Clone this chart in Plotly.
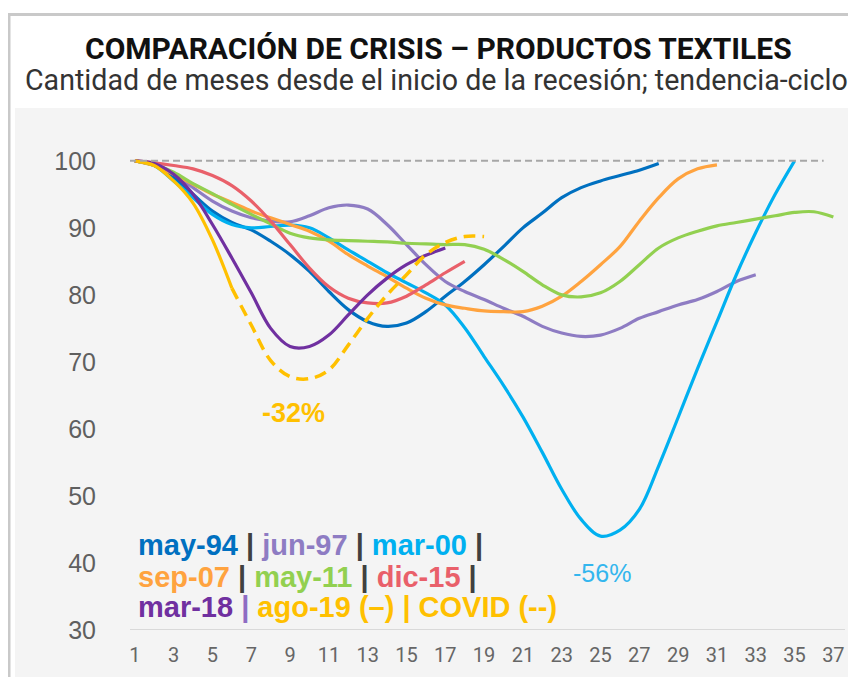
import plotly.graph_objects as go

# ---- data (index 100 = start of recession; months since start) ----
may94 = [100, 99.3, 97.5, 95, 92.5, 90.8, 89.7, 88, 86, 83.5, 80.5, 77.8, 76, 75.3, 75.8, 77.5,
         79.8, 82, 84.5, 87.2, 90, 92.2, 94.5, 96, 97, 97.8, 98.6, 99.6]
jun97 = [100, 99.4, 98, 96, 94, 92.5, 91.5, 91, 90.9, 91.8, 93, 93.4, 92.8, 90.5, 87.5, 84.5,
         82, 80.5, 79.3, 78, 76.8, 75.3, 74.3, 73.8, 74, 75, 76.5, 77.5, 78.5, 79.3, 80.5, 82, 83]
mar00 = [100, 99.3, 97, 94.5, 92, 90.5, 90, 90.2, 90.4, 90, 88.5, 86.7, 85, 83.3, 81.8, 80.3,
         78.5, 75.1, 70.8, 66.5, 61.8, 56.5, 51, 46.5, 44, 44.9, 48, 54.5, 61.7, 69, 76, 83, 89.3, 95, 100]
sep07 = [100, 99.3, 98, 96.5, 95, 93.8, 92.5, 91.5, 90.5, 89.5, 88, 86, 84.3, 82.7, 81, 79.5,
         78.5, 78, 77.6, 77.5, 77.5, 78.3, 79.8, 82, 84.5, 87.2, 91, 94.5, 97.3, 98.8, 99.4]
may11 = [100, 99.4, 98.3, 96.6, 95.1, 93.5, 92, 90.6, 89.2, 88.5, 88.2, 88.1, 88, 87.9, 87.7,
         87.6, 87.5, 87.5, 86.8, 85.3, 83.5, 81.5, 80, 79.7, 80.3, 82, 84.5, 87, 88.5, 89.5, 90.3,
         90.8, 91.3, 91.8, 92.3, 92.4, 91.6]
dic15 = [100, 99.7, 99.3, 98.8, 97.8, 96.3, 94, 91, 87.5, 84, 81.2, 79.5, 78.8, 78.8, 79.8, 81.5,
         83.3, 85]
mar18 = [100, 99.6, 98, 95, 90.5, 85.5, 80.3, 75, 72.3, 72.3, 74, 77, 80, 82.5, 84.5, 85.9, 87]
ago19 = [100, 99.3, 97, 93.7, 88.2, 81]
covid_start = 6
covid = [81, 75.5, 70.2, 67.8, 67.5, 68.8, 72.5, 76.5, 80, 83, 86, 87.8, 88.7, 88.7]

series_names = ["may-94", "jun-97", "mar-00", "sep-07", "may-11", "dic-15", "mar-18", "ago-19"]
series_values = [may94, jun97, mar00, sep07, may11, dic15, mar18, ago19]
series_colors = ["#0070c0", "#8e7cc3", "#00b0f0", "#ffa33f", "#92d050", "#e9606a", "#7030a0", "#ffc000"]

x_ticks = list(range(1, 38, 2))
y_ticks = [30, 40, 50, 60, 70, 80, 90, 100]

fig = go.Figure()

for name, vals, col in zip(series_names, series_values, series_colors):
    fig.add_trace(go.Scatter(
        x=list(range(1, len(vals) + 1)), y=vals, mode="lines", name=name,
        line=dict(color=col, width=3.2, shape="spline", smoothing=1.0),
        showlegend=False, hoverinfo="skip"))

fig.add_trace(go.Scatter(
    x=list(range(covid_start, covid_start + len(covid))), y=covid, mode="lines", name="COVID",
    line=dict(color="#ffc000", width=3.5, dash="12px,7px", shape="spline", smoothing=1.0),
    showlegend=False, hoverinfo="skip"))

# page has an 8px body margin: work in viewport pixels, convert to figure pixels
OFF = 8
VW, VH = 856, 677
W, H = VW - OFF, VH - OFF
L, R, T, B = 130 - OFF, 845 - OFF, 134 - OFF, 630 - OFF
def px(xv):
    return (xv - OFF - L) / (R - L)
def py(yv):
    return (B - (yv - OFF)) / (B - T)

shapes = [
    dict(type="rect", xref="paper", yref="paper", x0=px(15), x1=px(870), y0=py(690), y1=py(108),
         fillcolor="#f4f4f4", line=dict(width=0), layer="below"),
    dict(type="line", xref="paper", yref="paper", x0=px(9), x1=px(9), y0=py(14), y1=py(690),
         line=dict(color="#c9c9c9", width=3)),
    dict(type="line", xref="paper", yref="paper", x0=px(7.5), x1=px(870), y0=py(14.5), y1=py(14.5),
         line=dict(color="#c9c9c9", width=3)),
    dict(type="line", xref="x", yref="y", x0=0.7, x1=36.5, y0=100, y1=100,
         line=dict(color="#a6a6a6", width=2, dash="7px,4px")),
]

SEP = "#404040"
def sp(t, c):
    return f"<span style='color:{c}'>{t}</span>"

legend_lines = [
    sp("may-94", "#0070c0") + sp(" | ", SEP) + sp("jun-97", "#8e7cc3") + sp(" | ", SEP) + sp("mar-00", "#00b0f0") + sp(" |", SEP),
    sp("sep-07", "#ffa33f") + sp(" | ", SEP) + sp("may-11", "#92d050") + sp(" | ", SEP) + sp("dic-15", "#e9606a") + sp(" |", SEP),
    sp("mar-18", "#7030a0") + sp(" | ", "#8e6cc3") + sp("ago-19 (–) | COVID (--)", "#ffc000"),
]
legend_y = [545, 577, 607]

annotations = [
    dict(text="<b>COMPARACIÓN DE CRISIS – PRODUCTOS TEXTILES</b>", xref="paper", yref="paper",
         x=px(438), y=py(48), xanchor="center", yanchor="middle", showarrow=False,
         font=dict(family="Roboto", size=30, color="#111111")),
    dict(text="Cantidad de meses desde el inicio de la recesión; tendencia-ciclo", xref="paper", yref="paper",
         x=px(436), y=py(80), xanchor="center", yanchor="middle", showarrow=False,
         font=dict(family="Roboto", size=28.6, color="#333333")),
    dict(text="<b>-32%</b>", xref="paper", yref="paper", x=px(293), y=py(413), xanchor="center",
         yanchor="middle", showarrow=False, font=dict(family="Liberation Sans", size=27, color="#ffc000")),
    dict(text="-56%", xref="paper", yref="paper", x=px(602), y=py(573), xanchor="center",
         yanchor="middle", showarrow=False, font=dict(family="Liberation Sans", size=25, color="#33b6ee")),
]
for txt, yy in zip(legend_lines, legend_y):
    annotations.append(dict(text="<b>" + txt + "</b>", xref="paper", yref="paper", x=px(136), y=py(yy),
                            xanchor="left", yanchor="middle", showarrow=False,
                            font=dict(family="Liberation Sans", size=29)))

fig.update_layout(
    width=W, height=H,
    margin=dict(l=L, r=W - R, t=T, b=H - B, pad=0),
    paper_bgcolor="white", plot_bgcolor="#f4f4f4",
    shapes=shapes, annotations=annotations,
    xaxis=dict(range=[0.75, 37.6], tickvals=x_ticks, ticktext=[str(v) for v in x_ticks],
               showgrid=False, zeroline=False, showline=False,
               ticks="outside", ticklen=7, tickcolor="rgba(0,0,0,0)",
               tickfont=dict(family="Roboto", size=20, color="#666666")),
    yaxis=dict(range=[30, 104], tickvals=y_ticks, showgrid=False, zeroline=False,
               showline=False, ticks="outside", ticklen=28, tickcolor="rgba(0,0,0,0)",
               tickfont=dict(family="Liberation Sans", size=25, color="#5f5f5f")),
)
# x axis baseline at 30
fig.add_shape(type="line", xref="paper", yref="y", x0=0, x1=1, y0=30, y1=30,
              line=dict(color="#d9d9d9", width=2))

fig.write_html("out.html")
